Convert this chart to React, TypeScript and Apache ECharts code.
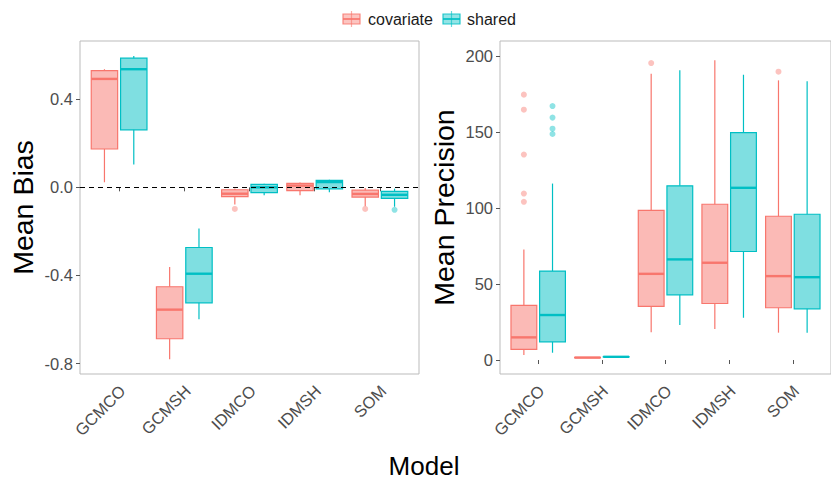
import React, { useEffect, useRef } from "react";
import * as echarts from "echarts";

// ---- data ----
const categories = ["GCMCO", "GCMSH", "IDMCO", "IDMSH", "SOM"];
const groups = ["covariate", "shared"];

// [lower whisker, Q1, median, Q3, upper whisker]
const biasCovariate = [
  [0.023, 0.174, 0.492, 0.53, 0.536],
  [-0.78, -0.687, -0.555, -0.451, -0.362],
  [-0.078, -0.042, -0.029, -0.011, -0.005],
  [-0.036, -0.015, 0.008, 0.018, 0.022],
  [-0.086, -0.044, -0.03, -0.013, -0.003],
];
const biasShared = [
  [0.104, 0.261, 0.536, 0.586, 0.596],
  [-0.599, -0.524, -0.392, -0.273, -0.187],
  [-0.036, -0.024, 0.0, 0.013, 0.016],
  [-0.022, -0.007, 0.024, 0.032, 0.034],
  [-0.088, -0.05, -0.034, -0.018, -0.006],
];
// outliers: [categoryIndex, value]
const biasOutCovariate = [
  [2, -0.098],
  [4, -0.098],
];
const biasOutShared = [[4, -0.102]];

const precCovariate = [
  [3.3, 7.0, 14.9, 35.9, 72.7],
  [1.4, 1.5, 1.6, 1.7, 1.8],
  [18.2, 35.3, 56.7, 98.4, 188.4],
  [20.4, 37.2, 64.0, 102.5, 197.2],
  [18.0, 34.4, 55.2, 94.6, 184.0],
];
const precShared = [
  [4.8, 12.0, 29.6, 58.5, 116.1],
  [1.9, 2.0, 2.1, 2.2, 2.3],
  [23.0, 42.9, 66.2, 114.6, 190.6],
  [27.8, 71.4, 113.3, 149.6, 187.7],
  [18.0, 33.7, 54.5, 95.9, 183.4],
];
const precOutCovariate = [
  [0, 174.6],
  [0, 164.7],
  [0, 135.2],
  [0, 109.5],
  [0, 104.1],
  [2, 195.4],
  [4, 189.7],
];
const precOutShared = [
  [0, 167.1],
  [0, 159.5],
  [0, 152.2],
  [0, 148.7],
];

const biasTicks = [-0.8, -0.4, 0, 0.4];
const precTicks = [0, 50, 100, 150, 200];

// ---- style ----
const FONT = "'Liberation Sans', Arial, Helvetica, sans-serif";
const COLORS = ["#F8766D", "#00BFC4"];
const FILLS = ["rgba(248,118,109,0.5)", "rgba(0,191,196,0.5)"];
const OUT_FILLS = ["rgba(248,118,109,0.55)", "rgba(0,191,196,0.55)"];
const DODGE = 0.225;
const BOX_W = 0.405;
const LABEL_SHIFT = 0.05;

function boxData(stats: number[][]) {
  return stats.map((s, i) => [i + 1, ...s]);
}
function outData(out: number[][], g: number) {
  const off = g === 0 ? -DODGE : DODGE;
  return out.map(([c, v]) => [c + 1 + off, v]);
}

function makeRender(g: number) {
  const off = g === 0 ? -DODGE : DODGE;
  const stroke = COLORS[g];
  const fill = FILLS[g];
  return (_params: any, api: any) => {
    const x = api.value(0) + off;
    const lo = api.value(1);
    const q1 = api.value(2);
    const med = api.value(3);
    const q3 = api.value(4);
    const hi = api.value(5);
    const h = BOX_W / 2;
    const tl = api.coord([x - h, q3]);
    const br = api.coord([x + h, q1]);
    const ml = api.coord([x - h, med]);
    const mr = api.coord([x + h, med]);
    const pHi = api.coord([x, hi]);
    const pLo = api.coord([x, lo]);
    return {
      type: "group",
      children: [
        {
          type: "line",
          shape: { x1: pHi[0], y1: pHi[1], x2: pHi[0], y2: tl[1] },
          style: { stroke, lineWidth: 1.2 },
        },
        {
          type: "line",
          shape: { x1: pLo[0], y1: pLo[1], x2: pLo[0], y2: br[1] },
          style: { stroke, lineWidth: 1.2 },
        },
        {
          type: "rect",
          shape: { x: tl[0], y: tl[1], width: br[0] - tl[0], height: br[1] - tl[1] },
          style: { fill, stroke, lineWidth: 1.2 },
        },
        {
          type: "line",
          shape: { x1: ml[0], y1: ml[1], x2: mr[0], y2: mr[1] },
          style: { stroke, lineWidth: 2.4 },
        },
      ],
    };
  };
}

function xAxis(gridIndex: number) {
  return {
    type: "value",
    gridIndex,
    min: 0.4,
    max: 5.6,
    splitLine: { show: false },
    axisLine: { show: false },
    axisTick: {
      show: true,
      length: 4,
      customValues: categories.map((_, i) => i + 1),
      lineStyle: { color: "#555", width: 1 },
    },
    axisLabel: {
      customValues: categories.map((_, i) => i + 1 + LABEL_SHIFT),
      formatter: (v: number) => categories[Math.round(v) - 1] ?? "",
      rotate: 45,
      margin: 14,
      fontSize: 16.5,
      color: "#4D4D4D",
      fontFamily: FONT,
    },
  };
}

function yAxis(gridIndex: number, min: number, max: number, ticks: number[], fmt: (v: number) => string) {
  return {
    type: "value",
    gridIndex,
    min,
    max,
    splitLine: { show: false },
    axisLine: { show: false },
    axisTick: {
      show: true,
      length: 4,
      customValues: ticks,
      lineStyle: { color: "#555", width: 1 },
    },
    axisLabel: {
      customValues: ticks,
      formatter: fmt,
      margin: 7,
      fontSize: 16.5,
      color: "#4D4D4D",
      fontFamily: FONT,
    },
  };
}

function legendItems() {
  const items: any[] = [];
  const keyX = [343, 443];
  const textX = [368, 467];
  groups.forEach((g, i) => {
    const x = keyX[i];
    items.push(
      {
        type: "line",
        shape: { x1: x + 8.5, y1: 11, x2: x + 8.5, y2: 27 },
        style: { stroke: COLORS[i], lineWidth: 1.2, opacity: 0.6 },
      },
      {
        type: "rect",
        shape: { x, y: 14, width: 17, height: 10 },
        style: { fill: FILLS[i], stroke: COLORS[i], lineWidth: 1.2, opacity: 0.85 },
      },
      {
        type: "line",
        shape: { x1: x, y1: 19, x2: x + 17, y2: 19 },
        style: { stroke: COLORS[i], lineWidth: 2, opacity: 0.85 },
      },
      {
        type: "text",
        x: textX[i],
        y: 19,
        style: {
          text: g,
          fontSize: 16,
          fontFamily: FONT,
          fill: "#1A1A1A",
          textVerticalAlign: "middle",
          textAlign: "left",
        },
      }
    );
  });
  return items;
}

export default function App() {
  const ref = useRef<HTMLDivElement>(null);
  useEffect(() => {
    document.body.style.margin = "0";
    if (!ref.current) return;
    const chart = echarts.init(ref.current, undefined, { renderer: "svg" });
    const gridCommon = {
      top: 41,
      height: 333,
      show: true,
      borderColor: "#BBBBBB",
      borderWidth: 1,
      backgroundColor: "transparent",
      containLabel: false,
    };
    const series: any[] = [];
    const panels = [
      { stats: [biasCovariate, biasShared], outs: [biasOutCovariate, biasOutShared] },
      { stats: [precCovariate, precShared], outs: [precOutCovariate, precOutShared] },
    ];
    panels.forEach((p, pi) => {
      [0, 1].forEach((g) => {
        series.push({
          type: "custom",
          name: groups[g],
          xAxisIndex: pi,
          yAxisIndex: pi,
          renderItem: makeRender(g),
          encode: { x: 0, y: [1, 2, 3, 4, 5] },
          data: boxData(p.stats[g]),
          z: 2,
        });
        series.push({
          type: "scatter",
          name: groups[g] + " outliers",
          xAxisIndex: pi,
          yAxisIndex: pi,
          symbol: "circle",
          symbolSize: 6,
          itemStyle: { color: OUT_FILLS[g] },
          data: outData(p.outs[g], g),
          z: 3,
        });
      });
    });
    series.push({
      type: "line",
      name: "zero",
      xAxisIndex: 0,
      yAxisIndex: 0,
      data: [],
      z: 10,
      markLine: {
        silent: true,
        symbol: ["none", "none"],
        label: { show: false },
        lineStyle: { color: "#000", type: [5, 4], width: 1.2 },
        data: [{ yAxis: 0 }],
      },
    });

    chart.setOption({
      animation: false,
      backgroundColor: "#FFFFFF",
      grid: [
        { ...gridCommon, left: 80, width: 339 },
        { ...gridCommon, left: 500, width: 340 },
      ],
      xAxis: [xAxis(0), xAxis(1)],
      yAxis: [
        yAxis(0, -0.847, 0.664, biasTicks, (v) => v.toFixed(1)),
        yAxis(1, -9.2, 209.9, precTicks, (v) => String(Math.round(v))),
      ],
      series,
      graphic: [
        ...legendItems(),
        {
          type: "text",
          x: 22.5,
          y: 207.5,
          rotation: Math.PI / 2,
          style: {
            text: "Mean Bias",
            fontSize: 28.5,
            fontFamily: FONT,
            fill: "#000",
            textAlign: "center",
            textVerticalAlign: "middle",
          },
        },
        {
          type: "text",
          x: 443.5,
          y: 207.5,
          rotation: Math.PI / 2,
          style: {
            text: "Mean Precision",
            fontSize: 28.5,
            fontFamily: FONT,
            fill: "#000",
            textAlign: "center",
            textVerticalAlign: "middle",
          },
        },
        {
          type: "text",
          x: 424,
          y: 466,
          style: {
            text: "Model",
            fontSize: 26,
            fontFamily: FONT,
            fill: "#000",
            textAlign: "center",
            textVerticalAlign: "middle",
          },
        },
      ],
    });
    return () => chart.dispose();
  }, []);
  return (
    <div
      ref={ref}
      style={{ position: "absolute", left: 0, top: 0, width: 831, height: 481, overflow: "hidden" }}
    />
  );
}
